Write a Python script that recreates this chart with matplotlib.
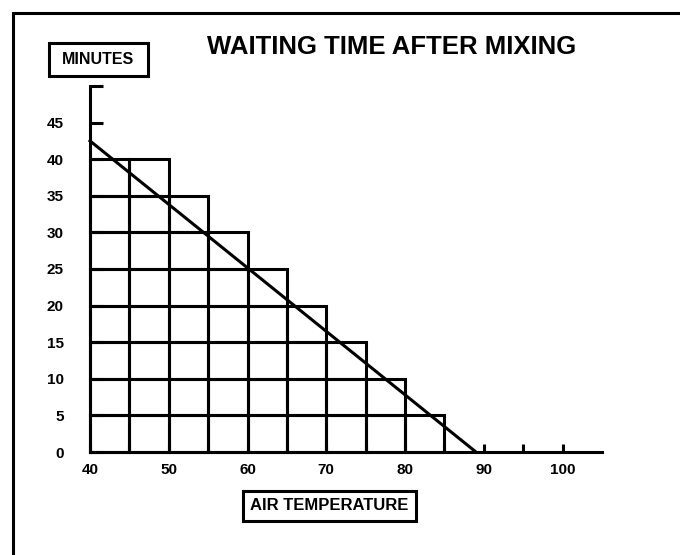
import matplotlib
matplotlib.use("Agg")
import matplotlib.pyplot as plt
from matplotlib.lines import Line2D
from matplotlib.patches import Rectangle

# --- data ---
temp_left = [40, 45, 50, 55, 60, 65, 70, 75, 80]      # left edge of each 5-degree column
minutes = [40, 40, 35, 30, 25, 20, 15, 10, 5]         # column height
step = 5                                              # each cell is 5 minutes tall
trend_temp = [40, 89]
trend_min = [42.5, 0]
x_ticks = [40, 45, 50, 55, 60, 65, 70, 75, 80, 85, 90, 95, 100]
x_labels = ["40", "", "50", "", "60", "", "70", "", "80", "", "90", "", "100"]
y_ticks = [0, 5, 10, 15, 20, 25, 30, 35, 40, 45, 50]
y_labels = ["0", "5", "10", "15", "20", "25", "30", "35", "40", "45", ""]

plt.rcParams["font.family"] = ["Liberation Sans", "DejaVu Sans"]
LW = 2.2

fig = plt.figure(figsize=(6.8, 5.55), dpi=100)
ax = fig.add_axes([90 / 680, 103 / 555, 512 / 680, 366 / 555])

# stacked 5-minute cells
for x0, h in zip(temp_left, minutes):
    for b in range(0, h, step):
        ax.bar(x0, step, width=5, bottom=b, align="edge", fill=False,
               edgecolor="black", linewidth=LW, clip_on=False, zorder=3)

ax.plot(trend_temp, trend_min, color="black", linewidth=LW, clip_on=False, zorder=4)

ax.set_xlim(40, 105)
ax.set_ylim(0, 50)
for s in ["top", "right"]:
    ax.spines[s].set_visible(False)
for s in ["left", "bottom"]:
    ax.spines[s].set_linewidth(LW)

ax.set_xticks(x_ticks)
ax.set_xticklabels(x_labels)
ax.set_yticks(y_ticks)
ax.set_yticklabels(y_labels)
ax.tick_params(axis="y", direction="in", length=9, width=LW, pad=19)
ax.tick_params(axis="x", direction="in", length=6, width=LW, pad=8)
for lab in ax.get_xticklabels() + ax.get_yticklabels():
    lab.set_fontweight("bold")
    lab.set_fontsize(11)

# title and boxed axis names
fig.text(392 / 680, 1 - 47 / 555, "WAITING TIME AFTER MIXING", fontsize=18.5,
         fontweight="bold", ha="center", va="center")

fig.add_artist(Rectangle((49 / 680, 1 - 76 / 555), 99 / 680, 33 / 555, fill=False,
                         linewidth=LW, edgecolor="black", transform=fig.transFigure))
fig.text(98 / 680, 1 - 59 / 555, "MINUTES", fontsize=11.5, fontweight="bold",
         ha="center", va="center")

fig.add_artist(Rectangle((243 / 680, 1 - 521 / 555), 173 / 680, 30 / 555, fill=False,
                         linewidth=LW, edgecolor="black", transform=fig.transFigure))
fig.text(329 / 680, 1 - 506 / 555, "AIR TEMPERATURE", fontsize=12, fontweight="bold",
         ha="center", va="center")

# page frame (top and left edges only)
fig.add_artist(Line2D([13 / 680, 1], [1 - 13 / 555, 1 - 13 / 555], color="black",
                      linewidth=LW, transform=fig.transFigure))
fig.add_artist(Line2D([13 / 680, 13 / 680], [0, 1 - 13 / 555], color="black",
                      linewidth=LW, transform=fig.transFigure))

fig.savefig("out.png", dpi=100)
